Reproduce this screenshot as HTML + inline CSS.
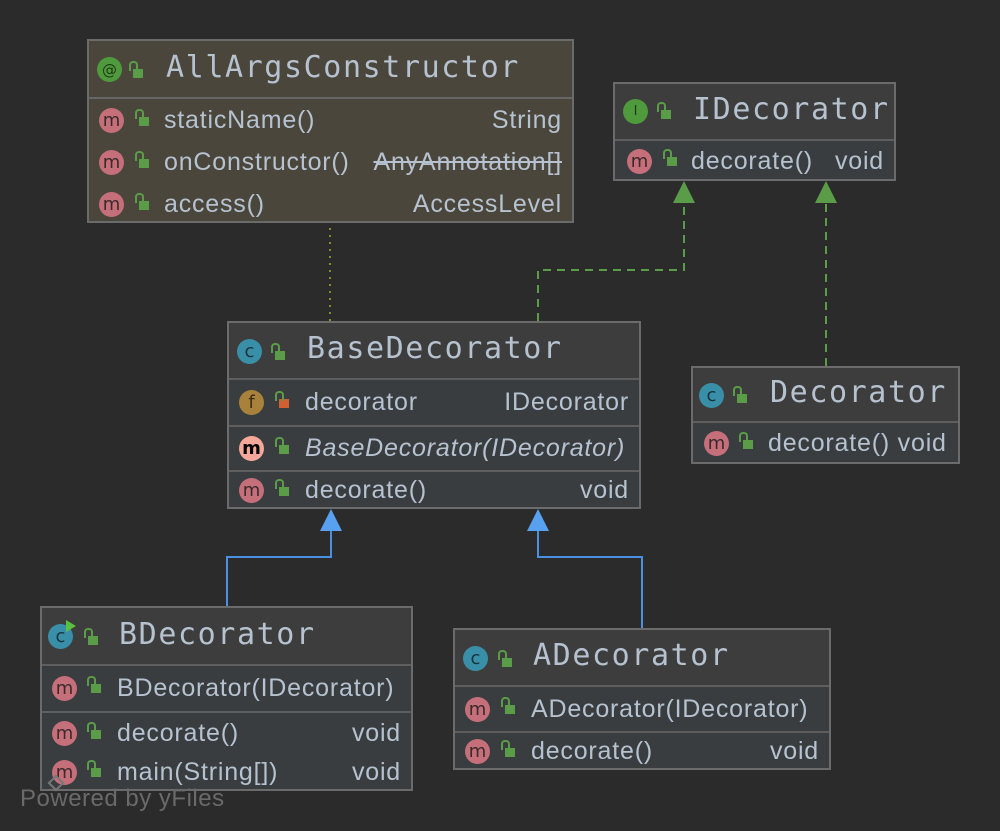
<!DOCTYPE html>
<html><head><meta charset="utf-8"><style>
body{margin:0;width:1000px;height:831px;background:#2b2b2b;overflow:hidden;position:relative;font-family:"Liberation Sans","DejaVu Sans",sans-serif;}
.box{position:absolute;border:2px solid #6b6b6b;box-sizing:border-box;background:#3a3d40;}
.hd{position:absolute;left:0;right:0;top:0;background:#3d3d3d;border-bottom:2px solid #5e5e5e;box-sizing:border-box;}
.r{position:absolute;left:0;right:0;display:flex;align-items:center;color:#b6c2cf;font-size:25px;letter-spacing:0.8px;box-sizing:border-box;}
.sep{border-top:2px solid #5e5e5e;}
.ic{position:absolute;width:25px;height:25px;border-radius:50%;display:flex;align-items:center;justify-content:center;font-size:18px;letter-spacing:0;color:#3a2a2a;font-family:"DejaVu Sans",sans-serif;}
.m{background:#c56f7b;}
.lk{position:absolute;width:10px;height:9px;background:#5a9c48;}
.lk:before{content:"";position:absolute;left:-4px;top:-8px;width:5px;height:8px;border:2px solid #5a9c48;border-bottom:none;border-radius:4px 4px 0 0;}
.t{position:absolute;white-space:nowrap;}
.h{font-family:"DejaVu Sans Mono","Liberation Mono",monospace;font-size:30px;letter-spacing:1.6px;color:#b6c2cf;}
.rt{position:absolute;right:10px;white-space:nowrap;}
</style></head><body>
<svg width="1000" height="831" style="position:absolute;left:0;top:0">
<line x1="330" y1="228" x2="330" y2="321" stroke="#8a8a2a" stroke-width="2" stroke-dasharray="2,5"/>
<polyline points="538,321 538,270 684,270 684,200" fill="none" stroke="#5a9c48" stroke-width="2" stroke-dasharray="8,6"/>
<polygon points="684,181 673,203 695,203" fill="#5a9c48"/>
<line x1="826" y1="366" x2="826" y2="200" stroke="#5a9c48" stroke-width="2" stroke-dasharray="8,6"/>
<polygon points="826,181 815,203 837,203" fill="#5a9c48"/>
<polyline points="227,606 227,557 331,557 331,530" fill="none" stroke="#4a90e0" stroke-width="2"/>
<polygon points="331,509 320,531 342,531" fill="#58a0f0"/>
<polyline points="642,628 642,557 538,557 538,530" fill="none" stroke="#4a90e0" stroke-width="2"/>
<polygon points="538,509 527,531 549,531" fill="#58a0f0"/>
</svg>

<!-- AllArgsConstructor -->
<div class="box" style="left:87px;top:39px;width:487px;height:184px;background:#4a463c">
 <div class="hd" style="height:58px;background:#4a463c;border-bottom-color:#666">
  <div class="ic" style="left:8px;top:16px;background:#4f9a3c;color:#1d3a14;font-size:15px">@</div>
  <div class="lk" style="left:44px;top:28px"></div>
  <div class="t h" style="left:77px;top:9px">AllArgsConstructor</div>
 </div>
 <div class="r" style="top:58px;height:42px"><div class="ic m" style="left:10px">m</div><div class="lk" style="left:50px;top:18px"></div><span class="t" style="left:75px">staticName()</span><span class="rt">String</span></div>
 <div class="r" style="top:100px;height:43px"><div class="ic m" style="left:10px">m</div><div class="lk" style="left:50px;top:18px"></div><span class="t" style="left:75px">onConstructor()</span><span class="rt" style="text-decoration:line-through">AnyAnnotation[]</span></div>
 <div class="r" style="top:143px;height:40px"><div class="ic m" style="left:10px">m</div><div class="lk" style="left:50px;top:17px"></div><span class="t" style="left:75px">access()</span><span class="rt">AccessLevel</span></div>
</div>

<!-- IDecorator -->
<div class="box" style="left:613px;top:82px;width:283px;height:99px">
 <div class="hd" style="height:57px">
  <div class="ic" style="left:8px;top:15px;background:#4f9a3c;color:#1d3a14;font-size:13px">I</div>
  <div class="lk" style="left:46px;top:26px"></div>
  <div class="t h" style="left:78px;top:8px">IDecorator</div>
 </div>
 <div class="r" style="top:57px;height:40px"><div class="ic m" style="left:12px">m</div><div class="lk" style="left:52px;top:16px"></div><span class="t" style="left:76px">decorate()</span><span class="rt">void</span></div>
</div>

<!-- BaseDecorator -->
<div class="box" style="left:227px;top:321px;width:414px;height:188px">
 <div class="hd" style="height:57px">
  <div class="ic" style="left:8px;top:16px;background:#3a8fa8;color:#16333e">c</div>
  <div class="lk" style="left:46px;top:28px"></div>
  <div class="t h" style="left:78px;top:8px">BaseDecorator</div>
 </div>
 <div class="r" style="top:57px;height:45px"><div class="ic" style="left:10px;background:#a8823c;color:#3e2c10">f</div><div class="lk" style="left:50px;top:19px;background:#d06030"></div><span class="t" style="left:76px">decorator</span><span class="rt">IDecorator</span></div>
 <div class="r sep" style="top:102px;height:45px"><div class="ic" style="left:10px;background:#f4a89a;color:#000;font-weight:bold">m</div><div class="lk" style="left:50px;top:18px"></div><span class="t" style="left:76px;font-style:italic">BaseDecorator(IDecorator)</span></div>
 <div class="r sep" style="top:147px;height:39px"><div class="ic m" style="left:10px">m</div><div class="lk" style="left:50px;top:15px"></div><span class="t" style="left:76px">decorate()</span><span class="rt">void</span></div>
</div>

<!-- Decorator -->
<div class="box" style="left:691px;top:366px;width:269px;height:98px">
 <div class="hd" style="height:55px">
  <div class="ic" style="left:6px;top:15px;background:#3a8fa8;color:#16333e">c</div>
  <div class="lk" style="left:44px;top:26px"></div>
  <div class="t h" style="left:77px;top:7px">Decorator</div>
 </div>
 <div class="r" style="top:55px;height:41px"><div class="ic m" style="left:11px">m</div><div class="lk" style="left:50px;top:17px"></div><span class="t" style="left:75px">decorate() void</span></div>
</div>

<!-- BDecorator -->
<div class="box" style="left:40px;top:606px;width:373px;height:185px">
 <div class="hd" style="height:58px">
  <div class="ic" style="left:6px;top:16px;background:#3a8fa8;color:#16333e">c</div>
  <div style="position:absolute;left:24px;top:12px;width:0;height:0;border-left:10px solid #5ac040;border-top:6px solid transparent;border-bottom:6px solid transparent"></div>
  <div class="lk" style="left:46px;top:28px"></div>
  <div class="t h" style="left:77px;top:9px">BDecorator</div>
 </div>
 <div class="r" style="top:58px;height:45px"><div class="ic m" style="left:10px">m</div><div class="lk" style="left:49px;top:18px"></div><span class="t" style="left:75px">BDecorator(IDecorator)</span></div>
 <div class="r sep" style="top:103px;height:42px"><div class="ic m" style="left:10px">m</div><div class="lk" style="left:49px;top:17px"></div><span class="t" style="left:75px">decorate()</span><span class="rt">void</span></div>
 <div class="r" style="top:145px;height:38px"><div class="ic m" style="left:10px">m</div><div class="lk" style="left:49px;top:15px"></div><span class="t" style="left:75px">main(String[])</span><span class="rt">void</span></div>
</div>

<!-- ADecorator -->
<div class="box" style="left:453px;top:628px;width:378px;height:142px">
 <div class="hd" style="height:57px">
  <div class="ic" style="left:8px;top:16px;background:#3a8fa8;color:#16333e">c</div>
  <div class="lk" style="left:47px;top:28px"></div>
  <div class="t h" style="left:78px;top:8px">ADecorator</div>
 </div>
 <div class="r" style="top:57px;height:44px"><div class="ic m" style="left:10px">m</div><div class="lk" style="left:50px;top:18px"></div><span class="t" style="left:76px">ADecorator(IDecorator)</span></div>
 <div class="r sep" style="top:101px;height:39px"><div class="ic m" style="left:10px">m</div><div class="lk" style="left:50px;top:15px"></div><span class="t" style="left:76px">decorate()</span><span class="rt">void</span></div>
</div>

<div style="position:absolute;left:50px;top:777px;width:8px;height:8px;border:2px solid #777;transform:rotate(45deg)"></div>
<div style="position:absolute;left:20px;top:785px;color:#6a6a6a;font-size:24px;letter-spacing:0.5px">Powered by yFiles</div>
</body></html>
